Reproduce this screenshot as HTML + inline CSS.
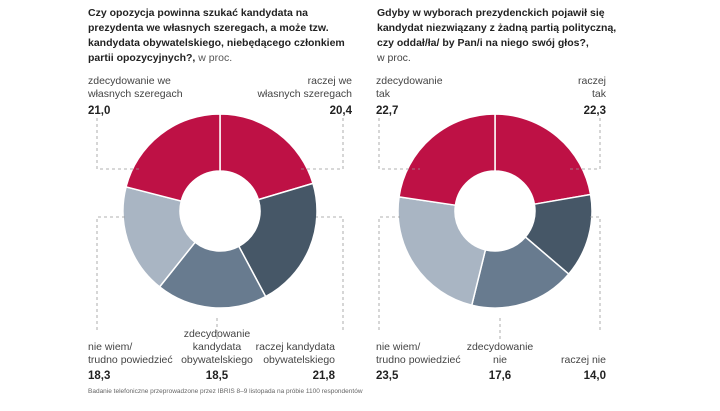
<!DOCTYPE html>
<html><head><meta charset="utf-8">
<style>
body{margin:0;background:#fff;width:720px;height:406px;overflow:hidden;font-family:"Liberation Sans",sans-serif;}
svg text{font-family:"Liberation Sans",sans-serif;}
.t{font-size:10.5px;font-weight:bold;fill:#222;}
.l{font-size:10.5px;fill:#444;}
.v{font-size:11.5px;font-weight:bold;fill:#222;}
</style></head><body>
<svg id="c" width="720" height="406">
<g>
<text class="t" x="88" y="16">Czy opozycja powinna szukać kandydata na</text>
<text class="t" x="88" y="31">prezydenta we własnych szeregach, a może tzw.</text>
<text class="t" x="88" y="46">kandydata obywatelskiego, niebędącego członkiem</text>
<text class="t" x="88" y="61">partii opozycyjnych?,<tspan font-weight="normal" fill="#555"> w proc.</tspan></text>
</g>
<g>
<text class="t" x="377" y="16">Gdyby w wyborach prezydenckich pojawił się</text>
<text class="t" x="377" y="31">kandydat niezwiązany z żadną partią polityczną,</text>
<text class="t" x="377" y="46">czy oddał/ła/ by Pan/i na niego swój głos?,</text>
<text class="l" x="377" y="61">w proc.</text>
</g>
<g id="d1"></g><g id="d2"></g>
<g fill="none" stroke="#999" stroke-dasharray="3,3" stroke-width="0.8">
<path d="M97 118V169H140M343 118V169H300M97 330V217H125M343 330V217H316M217 318V340"/>
<path d="M379 118V169H420M600 118V169H570M379 330V217H400M600 330V217H590M500 318V340"/>
</g>
<g>
<text class="l" x="88" y="84">zdecydowanie we</text><text class="l" x="88" y="97">własnych szeregach</text><text class="v" x="88" y="114">21,0</text>
<text class="l" x="352" y="84" text-anchor="end">raczej we</text><text class="l" x="352" y="97" text-anchor="end">własnych szeregach</text><text class="v" x="352" y="114" text-anchor="end">20,4</text>
<text class="l" x="88" y="350">nie wiem/</text><text class="l" x="88" y="363">trudno powiedzieć</text><text class="v" x="88" y="379">18,3</text>
<text class="l" x="217" y="337" text-anchor="middle">zdecydowanie</text><text class="l" x="217" y="350" text-anchor="middle">kandydata</text><text class="l" x="217" y="363" text-anchor="middle">obywatelskiego</text><text class="v" x="217" y="379" text-anchor="middle">18,5</text>
<text class="l" x="335" y="350" text-anchor="end">raczej kandydata</text><text class="l" x="335" y="363" text-anchor="end">obywatelskiego</text><text class="v" x="335" y="379" text-anchor="end">21,8</text>
</g>
<g>
<text class="l" x="376" y="84">zdecydowanie</text><text class="l" x="376" y="97">tak</text><text class="v" x="376" y="114">22,7</text>
<text class="l" x="606" y="84" text-anchor="end">raczej</text><text class="l" x="606" y="97" text-anchor="end">tak</text><text class="v" x="606" y="114" text-anchor="end">22,3</text>
<text class="l" x="376" y="350">nie wiem/</text><text class="l" x="376" y="363">trudno powiedzieć</text><text class="v" x="376" y="379">23,5</text>
<text class="l" x="500" y="350" text-anchor="middle">zdecydowanie</text><text class="l" x="500" y="363" text-anchor="middle">nie</text><text class="v" x="500" y="379" text-anchor="middle">17,6</text>
<text class="l" x="606" y="363" text-anchor="end">raczej nie</text><text class="v" x="606" y="379" text-anchor="end">14,0</text>
</g>
<text x="88" y="393" font-size="6.5" fill="#666">Badanie telefoniczne przeprowadzone przez IBRIS 8–9 listopada na próbie 1100 respondentów</text>
</svg>
<script>
const cats1=["raczej we własnych szeregach","raczej kandydata obywatelskiego","zdecydowanie kandydata obywatelskiego","nie wiem/trudno powiedzieć","zdecydowanie we własnych szeregach"];
const vals1=[20.4,21.8,18.5,18.3,21.0];
const cats2=["raczej tak","raczej nie","zdecydowanie nie","nie wiem/trudno powiedzieć","zdecydowanie tak"];
const vals2=[22.3,14.0,17.6,23.5,22.7];
const colors=["#be1145","#465767","#687b8f","#a9b5c3","#be1145"];
function donut(gid,vals,cats,cx,cy){
  const g=document.getElementById(gid);
  const tot=vals.reduce((a,b)=>a+b,0);const R=97,r=40;let a0=0;
  vals.forEach((v,i)=>{
    const a1=a0+v/tot*2*Math.PI;
    const p=(rad,a)=>[cx+rad*Math.sin(a),cy-rad*Math.cos(a)];
    const [x1,y1]=p(R,a0),[x2,y2]=p(R,a1),[x3,y3]=p(r,a1),[x4,y4]=p(r,a0);
    const lg=(a1-a0)>Math.PI?1:0;
    const el=document.createElementNS("http://www.w3.org/2000/svg","path");
    el.setAttribute("d",`M${x1} ${y1}A${R} ${R} 0 ${lg} 1 ${x2} ${y2}L${x3} ${y3}A${r} ${r} 0 ${lg} 0 ${x4} ${y4}Z`);
    el.setAttribute("fill",colors[i]);el.setAttribute("stroke","#fff");el.setAttribute("stroke-width","1.5");
    
    
    g.appendChild(el);a0=a1;
  });
}
donut("d1",vals1,cats1,220,211);
donut("d2",vals2,cats2,495,211);
</script>
</body></html>
